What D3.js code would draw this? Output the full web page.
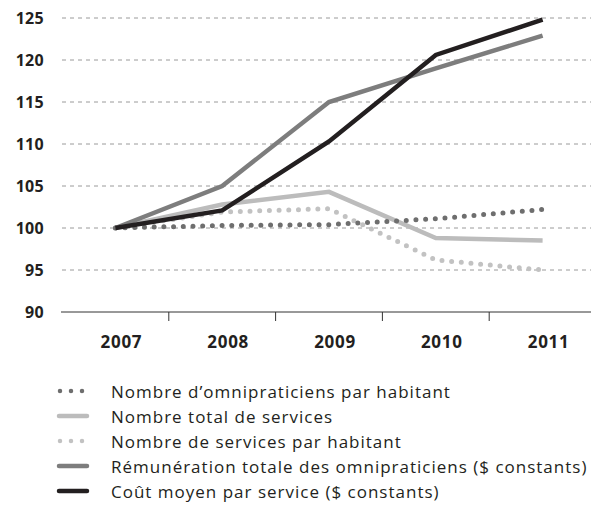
<!DOCTYPE html>
<html><head><meta charset="utf-8">
<script src="https://cdn.jsdelivr.net/npm/d3@7"></script>
<style>body{margin:0;background:#fff;}svg{display:block;font-family:"Open Sans",sans-serif;}</style>
</head><body><svg id="c" width="603" height="529"></svg>
<script>
const years = ["2007","2008","2009","2010","2011"];
const yTicks = [90,95,100,105,110,115,120,125];
const omniParHab = [100, 100.3, 100.4, 101.1, 102.2];
const servicesTotal = [100, 102.8, 104.3, 98.8, 98.5];
const servicesParHab = [100, 101.9, 102.3, 96.2, 95.0];
const remuneration = [100, 105.0, 115.0, 119.0, 122.9];
const coutMoyen = [100, 102.1, 110.3, 120.6, 124.8];
const legendLabels = [
  "Nombre d\u2019omnipraticiens par habitant",
  "Nombre total de services",
  "Nombre de services par habitant",
  "Rémunération totale des omnipraticiens ($ constants)",
  "Coût moyen par service ($ constants)"
];

const series = [
  {name: legendLabels[0], values: omniParHab, color: "#6e6e6e", dotted: true},
  {name: legendLabels[1], values: servicesTotal, color: "#bcbcbc", dotted: false},
  {name: legendLabels[2], values: servicesParHab, color: "#c2c2c2", dotted: true},
  {name: legendLabels[3], values: remuneration, color: "#7d7d7d", dotted: false},
  {name: legendLabels[4], values: coutMoyen, color: "#231f20", dotted: false}
];
const drawOrder = [1, 2, 0, 3, 4];

const svg = d3.select("#c");
const x = d3.scaleBand().domain(years).range([62, 596]);
const y = d3.scaleLinear().domain([90, 125]).range([312, 18]);
const axisEnd = 591;

// gridlines
svg.append("g").selectAll("line").data(yTicks.filter(d => d > 90)).join("line")
  .attr("x1", 62).attr("x2", axisEnd)
  .attr("y1", d => y(d)).attr("y2", d => y(d))
  .attr("stroke", "#9a9a9a").attr("stroke-width", 1).attr("stroke-dasharray", "4,4");

// y labels
svg.append("g").selectAll("text").data(yTicks).join("text")
  .attr("x", 44).attr("y", d => y(d)).attr("dy", "0.36em")
  .attr("text-anchor", "end").attr("font-size", 16).attr("font-weight", "bold")
  .attr("letter-spacing", 0.3)
  .attr("fill", "#231f20").text(d => d);

// x axis
svg.append("line").attr("x1", 61).attr("x2", axisEnd).attr("y1", y(90)).attr("y2", y(90))
  .attr("stroke", "#333").attr("stroke-width", 1);
svg.append("g").selectAll("line").data(years.slice(1)).join("line")
  .attr("x1", d => x(d)).attr("x2", d => x(d))
  .attr("y1", y(90)).attr("y2", y(90) + 9)
  .attr("stroke", "#333").attr("stroke-width", 1);
svg.append("g").selectAll("text").data(years).join("text")
  .attr("x", d => x(d) + x.bandwidth() / 2 + 6).attr("y", 348)
  .attr("text-anchor", "middle").attr("font-size", 17).attr("font-weight", "bold")
  .attr("letter-spacing", 0.7)
  .attr("fill", "#231f20").text(d => d);

// lines
const line = d3.line().x((d, i) => x(years[i]) + x.bandwidth() / 2).y(d => y(d));
drawOrder.forEach(k => {
  const s = series[k];
  const p = svg.append("path").attr("d", line(s.values)).attr("fill", "none")
    .attr("stroke", s.color);
  if (s.dotted) {
    p.attr("stroke-width", 5).attr("stroke-linecap", "round").attr("stroke-dasharray", "0,9.7");
  } else {
    p.attr("stroke-width", 4.5).attr("stroke-linejoin", "miter");
  }
});

// legend
const lg = svg.append("g");
series.forEach((s, i) => {
  const ly = 391 + i * 25;
  const l = lg.append("line").attr("x1", s.dotted ? 60 : 59).attr("x2", s.dotted ? 83 : 87)
    .attr("y1", ly).attr("y2", ly).attr("stroke", s.color);
  if (s.dotted) l.attr("stroke-width", 4.5).attr("stroke-linecap", "round").attr("stroke-dasharray", "0,11");
  else l.attr("stroke-width", 4.5).attr("stroke-linecap", "round");
  lg.append("text").attr("x", 111).attr("y", ly + 6.5)
    .attr("font-size", 17).attr("letter-spacing", 1).attr("fill", "#231f20").text(s.name);
});
</script></body></html>
